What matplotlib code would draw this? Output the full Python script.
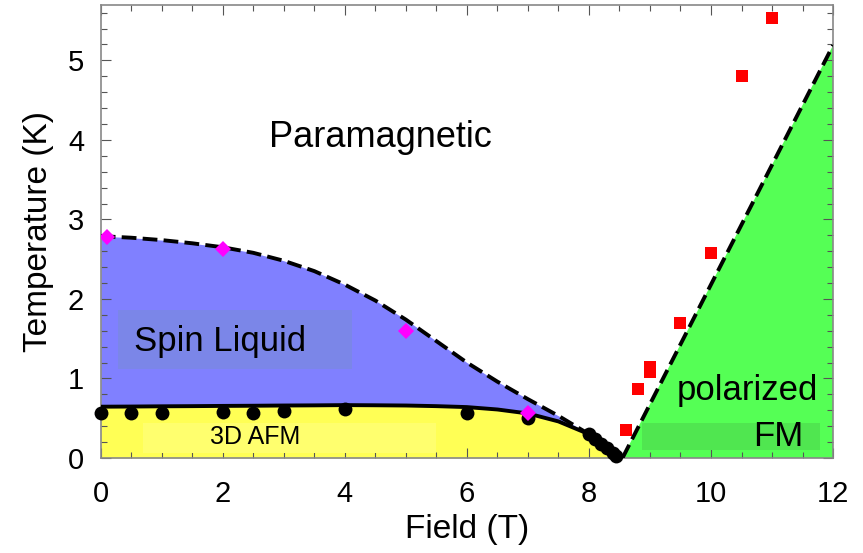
import matplotlib
matplotlib.use("Agg")
import matplotlib.pyplot as plt
from matplotlib.patches import Rectangle

# ── Data ──────────────────────────────────────────────────────────
# AFM ordering points (black circles)
afm_field = [0.0, 0.5, 1.0, 2.0, 2.5, 3.0, 4.0, 6.0, 7.0,
             8.0, 8.1, 8.2, 8.3, 8.4, 8.45]
afm_temp = [0.57, 0.56, 0.56, 0.58, 0.57, 0.59, 0.62, 0.56, 0.50,
            0.30, 0.24, 0.18, 0.12, 0.06, 0.02]

# spin-liquid crossover points (magenta diamonds)
sl_field = [0.1, 2.0, 5.0, 7.0]
sl_temp = [2.78, 2.63, 1.60, 0.57]

# polarized FM points (red squares)
fm_field = [8.6, 8.8, 9.0, 9.0, 9.5, 10.0, 10.5, 11.0]
fm_temp = [0.35, 0.87, 1.08, 1.14, 1.70, 2.58, 4.80, 5.53]

# boundary guide lines, common field grid
line_field = [0.0, 0.5, 1.0, 1.5, 2.0, 2.5, 3.0, 3.5, 4.0, 4.5, 5.0, 5.5,
              6.0, 6.5, 7.0, 7.5, 8.0, 8.3, 8.5]
afm_line = [0.645, 0.647, 0.65, 0.652, 0.655, 0.657, 0.66, 0.662, 0.665, 0.663,
            0.66, 0.652, 0.64, 0.61, 0.56, 0.46, 0.30, 0.16, 0.0]
sl_line = [2.79, 2.77, 2.74, 2.70, 2.65, 2.58, 2.48, 2.35, 2.18, 1.98,
           1.74, 1.47, 1.20, 0.96, 0.74, 0.53, 0.30, 0.14, 0.03]

fm_line_field = [8.55, 12.0]
fm_line_temp = [0.0, 5.19]

BLUE = "#8080ff"
YELLOW = "#ffff55"
GREEN = "#55ff55"

plt.rcParams["font.family"] = ["Liberation Sans"]

fig = plt.figure(figsize=(8.63, 5.53), dpi=100)
ax = fig.add_axes([0.1167, 0.1718, 0.8486, 0.8197])

# ── Phase regions ─────────────────────────────────────────────────
ax.fill_between(line_field, 0, afm_line, color=YELLOW, lw=0, zorder=1)
ax.fill_between(line_field, afm_line, sl_line, color=BLUE, lw=0, zorder=1)
ax.fill(fm_line_field + [12.0], fm_line_temp + [0.0], color=GREEN, lw=0, zorder=1)

# label boxes
ax.add_patch(Rectangle((0.28, 1.12), 3.84, 0.74, color="#7b86e8", lw=0, zorder=2))
ax.add_patch(Rectangle((0.69, 0.06), 4.81, 0.38, color="#ffff6e", lw=0, zorder=2))
ax.add_patch(Rectangle((8.87, 0.10), 2.92, 0.34, color="#50e650", lw=0, zorder=2))

# ── Lines ─────────────────────────────────────────────────────────
ax.plot(line_field, sl_line, color="black", lw=2.8, ls=(0, (3.8, 1.6)), zorder=3)
ax.plot(line_field, afm_line, color="black", lw=2.8, zorder=3)
ax.plot(fm_line_field, fm_line_temp, color="black", lw=2.8, ls=(0, (3.8, 1.6)), zorder=3)

# ── Points ────────────────────────────────────────────────────────
ax.plot(afm_field, afm_temp, "o", color="black", ms=10, mew=0, zorder=4, clip_on=False)
ax.plot(sl_field, sl_temp, "D", color="#ff00ff", ms=8.5, mew=0, zorder=4)
ax.plot(fm_field, fm_temp, "s", color="red", ms=8.5, mew=0, zorder=4)

# ── Labels ────────────────────────────────────────────────────────
ax.text(4.58, 4.03, "Paramagnetic", fontsize=26, ha="center", va="center", zorder=5)
ax.text(0.55, 1.47, "Spin Liquid", fontsize=25, ha="left", va="center", zorder=5)
ax.text(2.53, 0.26, "3D AFM", fontsize=18, ha="center", va="center", zorder=5)
ax.text(10.6, 0.85, "polarized", fontsize=25, ha="center", va="center", zorder=5)
ax.text(11.1, 0.27, "FM", fontsize=25, ha="center", va="center", zorder=5)

# ── Axes ──────────────────────────────────────────────────────────
ax.set_xlim(0, 12)
ax.set_ylim(0, 5.7)
ax.set_xticks([0, 2, 4, 6, 8, 10, 12])
ax.set_yticks([0, 1, 2, 3, 4, 5])
ax.set_xticks([i * 0.5 for i in range(25)], minor=True)
ax.set_yticks([i * 0.2 for i in range(29)], minor=True)
ax.tick_params(which="both", direction="in", top=True, right=True,
               color="#555555", width=0.8, labelsize=21)
ax.tick_params(axis="x", pad=16)
ax.tick_params(axis="y", pad=12)
ax.tick_params(which="major", length=7)
ax.tick_params(which="minor", length=4)
for sp in ax.spines.values():
    sp.set_color("#888888")
    sp.set_linewidth(1.2)

ax.set_xlabel("Field (T)", fontsize=24, labelpad=4)
ax.set_ylabel("Temperature (K)", fontsize=24, labelpad=10)

fig.savefig("out.png", dpi=100)
